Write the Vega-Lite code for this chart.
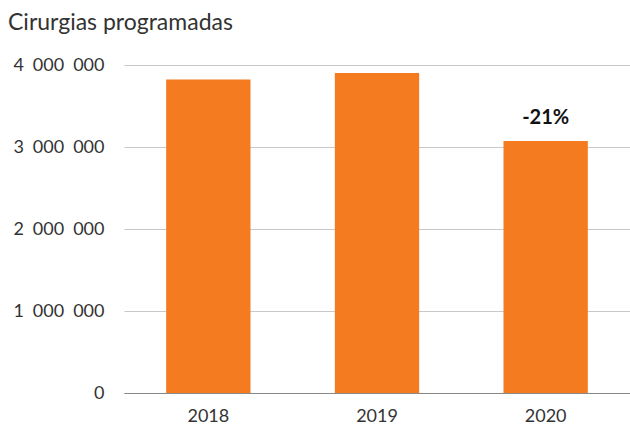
{
  "$schema": "https://vega.github.io/schema/vega-lite/v6.json",
  "width": 506,
  "height": 328,
  "autosize": {"type": "none"},
  "padding": {"left": 124, "top": 65, "right": 0, "bottom": 37},
  "background": "white",
  "title": {
    "text": "Cirurgias programadas",
    "anchor": "start",
    "frame": "group",
    "dx": -116,
    "offset": 5,
    "font": "Lato",
    "fontSize": 23,
    "fontWeight": "normal",
    "color": "#333333"
  },
  "data": {
    "values": [
      {"year": "2018", "value": 3823000, "label": ""},
      {"year": "2019", "value": 3902000, "label": ""},
      {"year": "2020", "value": 3073000, "label": "-21%"}
    ]
  },
  "encoding": {
    "x": {
      "field": "year",
      "type": "nominal",
      "scale": {"paddingInner": 0.5, "paddingOuter": 0.25},
      "axis": {
        "title": null,
        "labelAngle": 0,
        "ticks": false,
        "domain": true,
        "domainColor": "#888888",
        "domainWidth": 1.2,
        "labelPadding": 14,
        "labelFont": "Lato",
        "labelFontSize": 18,
        "labelColor": "#333333"
      }
    },
    "y": {
      "field": "value",
      "type": "quantitative",
      "scale": {"domain": [0, 4000000]},
      "axis": {
        "title": null,
        "values": [0, 1000000, 2000000, 3000000, 4000000],
        "labelExpr": "replace(format(datum.value, ',d'), /,/g, '\u2002')",
        "domain": false,
        "ticks": false,
        "grid": true,
        "gridColor": "#c8c8c8",
        "gridWidth": 1.2,
        "labelPadding": 20,
        "labelFont": "Lato",
        "labelFontSize": 18,
        "labelColor": "#333333"
      }
    }
  },
  "layer": [
    {"mark": {"type": "bar", "color": "#F47B20"}},
    {
      "mark": {
        "type": "text",
        "dy": -17,
        "baseline": "alphabetic",
        "font": "Lato",
        "fontWeight": "bold",
        "fontSize": 20,
        "color": "#111111"
      },
      "encoding": {"text": {"field": "label"}}
    }
  ],
  "config": {"view": {"stroke": null}}
}
